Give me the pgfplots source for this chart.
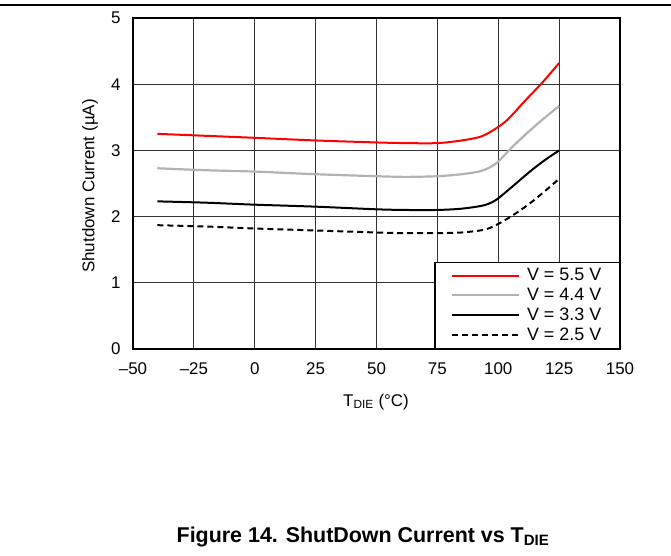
\documentclass[border=0pt]{standalone}
\usepackage{fontspec}
\setmainfont{Liberation Sans}
\usepackage{pgfplots}
\pgfplotsset{compat=1.18}

\begin{document}
\begin{tikzpicture}[x=1bp,y=1bp,font=\fontsize{17}{20}\selectfont]
\useasboundingbox (0,0) rectangle (671,556);
\draw[line width=1.2bp] (0,551) -- (671,551);
\begin{axis}[
	at={(133bp,207bp)}, anchor=south west,
	scale only axis, width=487bp, height=331bp,
	xmin=-50, xmax=150, ymin=0, ymax=5,
	xtick={-50,-25,0,25,50,75,100,125,150},
	xticklabels={--50,--25,0,25,50,75,100,125,150},
	ytick={0,1,2,3,4,5},
	/pgf/number format/assume math mode=true,
	major tick length=0pt,
	grid=major,
	major grid style={black!80, line width=0.8bp},
	axis line style={line width=1.8bp},
	xticklabel style={yshift=-10bp},
	yticklabel style={xshift=-9bp},
	legend style={at={(1,0)}, anchor=south east, draw=black, line width=1.4bp,
		fill=white, font=\fontsize{18}{21}\selectfont,
		inner xsep=16bp, inner ysep=4bp, row sep=2bp, column sep=5bp},
	legend cell align=left,
	legend image code/.code={\draw[#1] (0bp,0bp) -- (67bp,0bp);},
]
	\addplot[red, line width=2bp, smooth] coordinates {
		(-40,3.25) (-20,3.22) (0,3.19) (25,3.15) (50,3.12) (62,3.11) (75,3.11)
		(85,3.15) (93,3.21) (99,3.33) (104,3.47) (111,3.75) (118,4.02) (125,4.32)
	};
	\addplot[black!30, line width=2.2bp, smooth] coordinates {
		(-40,2.73) (-20,2.70) (0,2.68) (25,2.64) (50,2.61) (62,2.60) (75,2.61)
		(85,2.64) (93,2.69) (99,2.80) (106,3.06) (113,3.30) (118,3.46) (125,3.67)
	};
	\addplot[black, line width=2bp, smooth] coordinates {
		(-40,2.23) (-20,2.21) (0,2.18) (25,2.15) (50,2.11) (62,2.10) (75,2.10)
		(85,2.12) (94,2.17) (99,2.25) (106,2.46) (113,2.68) (119,2.85) (125,3.00)
	};
	\addplot[black, line width=2bp, smooth, dash pattern=on 6bp off 4bp] coordinates {
		(-40,1.87) (-20,1.85) (0,1.82) (25,1.79) (50,1.76) (62,1.75) (75,1.75)
		(85,1.76) (94,1.80) (99,1.87) (106,2.02) (113,2.20) (119,2.38) (125,2.57)
	};
	\legend{V = 5.5 V, V = 4.4 V, V = 3.3 V, V = 2.5 V}
\end{axis}
\node at (376,154) {T\textsubscript{DIE} (°C)};
\node[rotate=90] at (90,370) {Shutdown Current (µA)};
\node[font=\fontsize{21.5}{25}\selectfont\bfseries] at (363,19) {Figure 14. ShutDown Current vs T\textsubscript{DIE}};
\end{tikzpicture}
\end{document}
